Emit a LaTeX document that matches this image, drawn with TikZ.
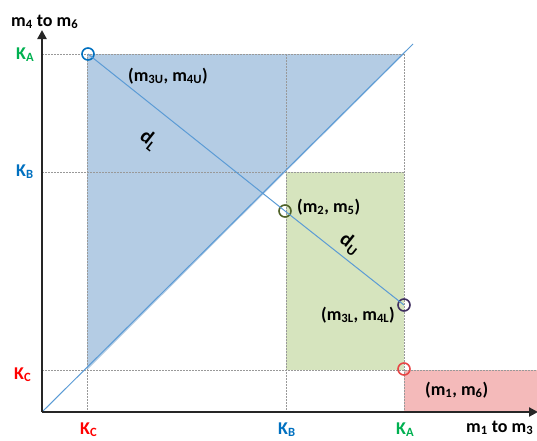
\documentclass[tikz,border=0pt]{standalone}
\usepackage{fontspec}
\setmainfont{Carlito}
\usetikzlibrary{arrows.meta}
\definecolor{bluefill}{RGB}{180,204,228}
\definecolor{greenfill}{RGB}{214,228,190}
\definecolor{redfill}{RGB}{244,186,186}
\definecolor{diag}{RGB}{91,155,213}
\definecolor{kgreen}{RGB}{0,176,80}
\definecolor{kblue}{RGB}{0,112,192}
\definecolor{kred}{RGB}{255,0,0}
\definecolor{cgreen}{RGB}{79,98,40}
\definecolor{cpurple}{RGB}{64,48,96}
\definecolor{cred}{RGB}{230,70,70}
\tikzset{
  grid dot/.style={draw=gray!80, line width=0.8pt, dash pattern=on 1.5pt off 1.5pt},
  axisline/.style={draw=black!85, line width=2.4pt, -{Triangle[length=9pt,width=9pt]}},
  lbl/.style={font=\bfseries\fontsize{18}{20}\selectfont, text=black, inner sep=0pt},
  klbl/.style={font=\bfseries\fontsize{18}{20}\selectfont, inner sep=0pt},
  dlbl/.style={font=\bfseries\fontsize{20}{22}\selectfont, text=black, inner sep=0pt, rotate=-38.5},
  mark circle/.style={circle, draw, line width=1.6pt, minimum size=12pt, inner sep=0pt},
  dline/.style={draw=diag, line width=1pt}
}
\newcommand{\sbs}[1]{\textsubscript{#1}}
\begin{document}
\begin{tikzpicture}[x=1pt,y=-1pt]
\useasboundingbox (0,0) rectangle (537,440);
% coordinates
\coordinate (O) at (42,412);
\coordinate (Ytop) at (42,30);
\coordinate (Xend) at (538,412);
\coordinate (DiagEnd) at (413,44);
% fills
\fill[bluefill] (87,54) -- (404,54) -- (87,370) -- cycle;
\fill[greenfill] (286,172) rectangle (404,370);
\fill[redfill] (404,370) rectangle (537,412);
% dotted grid
\draw[grid dot] (42,54) -- (404,54);
\draw[grid dot] (42,172) -- (404,172);
\draw[grid dot] (42,370) -- (537,370);
\draw[grid dot] (87,54) -- (87,412);
\draw[grid dot] (286,54) -- (286,412);
\draw[grid dot] (404,54) -- (404,412);
% diagonal
\draw[dline] (O) -- (DiagEnd);
% marker points
\node[mark circle, draw=kblue] (cU) at (88,54) {};
\node[mark circle, draw=cgreen] (cM) at (285,211) {};
\node[mark circle, draw=cpurple] (cL) at (404,305) {};
\node[mark circle, draw=cred] (c16) at (404,369) {};
% d line through circle centres
\draw[dline] (cU.center) -- (cM.center) -- (cL.center);
% axes
\draw[axisline] (O) -- (Ytop);
\draw[axisline] (O) -- (Xend);
% axis titles
\node[lbl, anchor=base west] (ytitle) at (11,26) {m\sbs{4} to m\sbs{6}};
\node[lbl, anchor=base west] (xtitle) at (466,432) {m\sbs{1} to m\sbs{3}};
% K labels
\node[klbl, text=kgreen, anchor=base west] (kay) at (16,59) {K\sbs{A}};
\node[klbl, text=kblue, anchor=base west] (kby) at (16,176) {K\sbs{B}};
\node[klbl, text=kred, anchor=base west] (kcy) at (14,379) {K\sbs{C}};
\node[klbl, text=kred, anchor=base west] (kcx) at (80,434) {K\sbs{C}};
\node[klbl, text=kblue, anchor=base west] (kbx) at (278,434) {K\sbs{B}};
\node[klbl, text=kgreen, anchor=base west] (kax) at (396,434) {K\sbs{A}};
% point labels
\node[lbl, anchor=base west] (lU) at (128,81) {(m\sbs{3U}, m\sbs{4U})};
\node[lbl, anchor=base west] (lM) at (297,212) {(m\sbs{2}, m\sbs{5})};
\node[lbl, anchor=base west] (lL) at (321,320) {(m\sbs{3L}, m\sbs{4L})};
\node[lbl, anchor=base west] (l16) at (425,395) {(m\sbs{1}, m\sbs{6})};
\node[dlbl] (dL) at (149,140) {d\sbs{L}};
\node[dlbl] (dU) at (350,244) {d\sbs{U}};
\end{tikzpicture}
\end{document}
